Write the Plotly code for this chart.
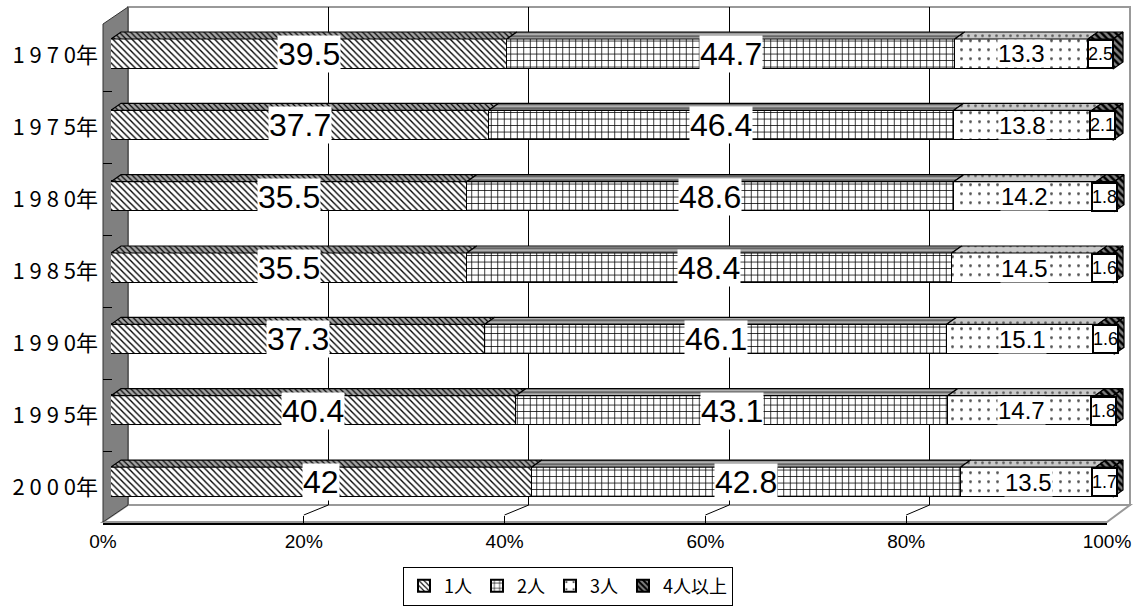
import plotly.graph_objects as go

# ---------------- data ----------------
years = [1970, 1975, 1980, 1985, 1990, 1995, 2000]
series_names = ["1人", "2人", "3人", "4人以上"]
p1 = [39.5, 37.7, 35.5, 35.5, 37.3, 40.4, 42]
p2 = [44.7, 46.4, 48.6, 48.4, 46.1, 43.1, 42.8]
p3 = [13.3, 13.8, 14.2, 14.5, 15.1, 14.7, 13.5]
p4 = [2.5, 2.1, 1.8, 1.6, 1.6, 1.8, 1.7]
x_ticks = [0, 20, 40, 60, 80, 100]

# ---------------- geometry (pixels) ----------------
W, H = 1136, 612
def fx(px): return px / W
def fy(py): return 1 - py / H

BACK = dict(l=128, r=1130, t=7, b=505)
FRONT = dict(l=103, r=1107, t=24, b=522)
LAB = dict(t=19, b=523)                 # front category band (labels)
BAR_X0, BAR_PX_PER_UNIT = 111, 10.02    # bar axis: 0 -> 111 px
BAR_XMAX = 102
BAR_Y = dict(t=18.3, b=517.7)
BAR_W = 0.42
DEPTH_PX = (10, 7)

rows = list(range(len(years)))
ytext = [" ".join(str(y)) + "年" for y in years]
xtext = [f"{t}%" for t in x_ticks]

px_per_row = (BAR_Y["b"] - BAR_Y["t"]) / len(years)
dxu = DEPTH_PX[0] / BAR_PX_PER_UNIT
dyu = DEPTH_PX[1] / px_per_row

NUM_FONT = "Liberation Sans, Arial, sans-serif"
JP_FONT = "Noto Sans CJK JP, sans-serif"

styles = [
    dict(front=dict(shape="\\", fgcolor="black", bgcolor="white", size=4.5, solidity=0.3),
         top=dict(shape="\\", fgcolor="black", bgcolor="#a6a6a6", size=4, solidity=0.3),
         font=32),
    dict(front=dict(shape="+", fgcolor="black", bgcolor="white", size=6.5, solidity=0.22),
         top=dict(shape="-", fgcolor="#333333", bgcolor="#b0b0b0", size=4, solidity=0.3),
         font=32),
    dict(front=dict(shape=".", fgcolor="#555555", bgcolor="white", size=9, solidity=0.08),
         top=dict(shape=".", fgcolor="#555555", bgcolor="#c8c8c8", size=7, solidity=0.12),
         font=24),
    dict(front=dict(shape="\\", fgcolor="black", bgcolor="#808080", size=5, solidity=0.5),
         top=dict(shape="\\", fgcolor="black", bgcolor="#808080", size=5, solidity=0.5),
         font=18),
]
values = [p1, p2, p3, p4]

fig = go.Figure()

# dummy traces so the back-wall grid subplot and the front axis subplot exist
fig.add_trace(go.Scatter(x=[None], y=[None], xaxis="x", yaxis="y", showlegend=False, hoverinfo="skip"))
fig.add_trace(go.Scatter(x=[None], y=[None], xaxis="x2", yaxis="y2", showlegend=False, hoverinfo="skip"))

# front faces (stacked bars)
for name, vals, st in zip(series_names, values, styles):
    fig.add_trace(go.Bar(
        y=rows, x=vals, orientation="h", name=name, width=BAR_W,
        xaxis="x3", yaxis="y3",
        marker=dict(color=st["front"]["bgcolor"], pattern=st["front"],
                    line=dict(color="black", width=1.5)),
        hoverinfo="x+name",
    ))

# top faces & right side faces (computed from data)
cum = [0.0] * len(years)
annotations = []
for k, (name, vals, st) in enumerate(zip(series_names, values, styles)):
    xs, ys = [], []
    for i, v in enumerate(vals):
        a, b = cum[i], cum[i] + v
        yt = i - BAR_W / 2
        xs += [a, b, b + dxu, a + dxu, a, None]
        ys += [yt, yt, yt - dyu, yt - dyu, yt, None]
        if k == len(values) - 1:
            yb = i + BAR_W / 2
            xs += [b, b + dxu, b + dxu, b, b, None]
            ys += [yt, yt - dyu, yb - dyu, yb, yt, None]
        ann = dict(x=a + v / 2, y=i, xref="x3", yref="y3", text=f"{v:g}", showarrow=False,
                   font=dict(family=NUM_FONT, size=st["font"], color="black"),
                   bgcolor="white", borderpad=0, xanchor="center", yanchor="middle")
        if k == len(values) - 1:
            ann.update(bordercolor="black", borderwidth=2, borderpad=0, width=23, height=26)
        annotations.append(ann)
        cum[i] = b
    fig.add_trace(go.Scatter(
        x=xs, y=ys, mode="lines", fill="toself", xaxis="x3", yaxis="y3",
        fillcolor=st["top"]["bgcolor"], fillpattern=st["top"],
        line=dict(color="black", width=1.2), showlegend=False, hoverinfo="skip",
    ))

# ---------------- decorative 3D frame ----------------
def path(pts):
    return "M " + " L ".join(f"{fx(x)},{fy(y)}" for x, y in pts) + " Z"

shapes = [
    dict(type="rect", xref="paper", yref="paper", x0=fx(BACK["l"]), x1=fx(BACK["r"]),
         y0=fy(BACK["b"]), y1=fy(BACK["t"]), fillcolor="white",
         line=dict(color="#999999", width=2), layer="below"),
    dict(type="path", xref="paper", yref="paper",
         path=path([(FRONT["l"], FRONT["b"]), (BACK["l"], BACK["b"]), (BACK["r"], BACK["b"]), (FRONT["r"], FRONT["b"])]),
         fillcolor="white", line=dict(color="#999999", width=2), layer="below"),
    dict(type="path", xref="paper", yref="paper",
         path=path([(FRONT["l"], FRONT["t"]), (BACK["l"], BACK["t"]), (BACK["l"], BACK["b"]), (FRONT["l"], FRONT["b"])]),
         fillcolor="#808080", line=dict(color="#333333", width=1), layer="below"),
]
fw = (FRONT["r"] - FRONT["l"]) / 100
bw = (BACK["r"] - BACK["l"]) / 100
for t in x_ticks[1:-1]:
    shapes.append(dict(type="line", xref="paper", yref="paper",
                       x0=fx(FRONT["l"] + fw * t), y0=fy(FRONT["b"] - 7),
                       x1=fx(BACK["l"] + bw * t), y1=fy(BACK["b"]),
                       line=dict(color="black", width=1), layer="below"))

fig.update_layout(
    template="none",
    width=W, height=H, autosize=False, margin=dict(l=0, r=0, t=0, b=0, pad=0, autoexpand=False),
    paper_bgcolor="white", plot_bgcolor="rgba(0,0,0,0)",
    barmode="stack", bargap=0,
    shapes=shapes, annotations=annotations,
    showlegend=True,
    legend=dict(orientation="h", x=0.5, xanchor="center", y=fy(586), yanchor="middle",
                bordercolor="black", borderwidth=1, bgcolor="white", traceorder="normal",
                font=dict(family=JP_FONT, size=18, color="black"),
                itemsizing="constant", tracegroupgap=0, itemwidth=30),
    xaxis=dict(domain=[fx(BACK["l"]), fx(BACK["r"])], range=[0, 100], anchor="y",
               tickvals=x_ticks[1:-1], showticklabels=False, ticks="", automargin=False,
               showgrid=True, gridcolor="black", gridwidth=1, zeroline=False, showline=False),
    yaxis=dict(domain=[fy(BACK["b"]), fy(BACK["t"])], range=[0, 1], anchor="x", automargin=False,
               visible=False, showgrid=False, zeroline=False),
    xaxis2=dict(domain=[fx(FRONT["l"]), fx(FRONT["r"])], range=[0, 100], anchor="y2",
                tickvals=x_ticks, ticktext=xtext, ticks="inside", ticklen=7, tickcolor="black",
                showline=True, linecolor="black", linewidth=1.5, showgrid=False, zeroline=False,
                automargin=False,
                tickfont=dict(family=NUM_FONT, size=19, color="black")),
    yaxis2=dict(domain=[fy(LAB["b"]), fy(LAB["t"])], range=[len(years) - 0.5, -0.5], anchor="x2",
                tickvals=rows, ticktext=ytext, ticks="", showline=False, showgrid=False,
                zeroline=False, ticklabelstandoff=4, automargin=False,
                tickfont=dict(family=JP_FONT, size=22, color="black"),
                minor=dict(tickvals=[r + 0.5 for r in rows[:-1]], ticks="inside", ticklen=9,
                           tickcolor="black", showgrid=False)),
    xaxis3=dict(domain=[fx(BAR_X0), fx(BAR_X0 + BAR_PX_PER_UNIT * BAR_XMAX)], range=[0, BAR_XMAX],
                anchor="y3", visible=False, showgrid=False, zeroline=False, automargin=False),
    yaxis3=dict(domain=[fy(BAR_Y["b"]), fy(BAR_Y["t"])], range=[len(years) - 0.5, -0.5], anchor="x3",
                visible=False, showgrid=False, zeroline=False, automargin=False),
)

fig.write_html("out.html", config={"responsive": False})
